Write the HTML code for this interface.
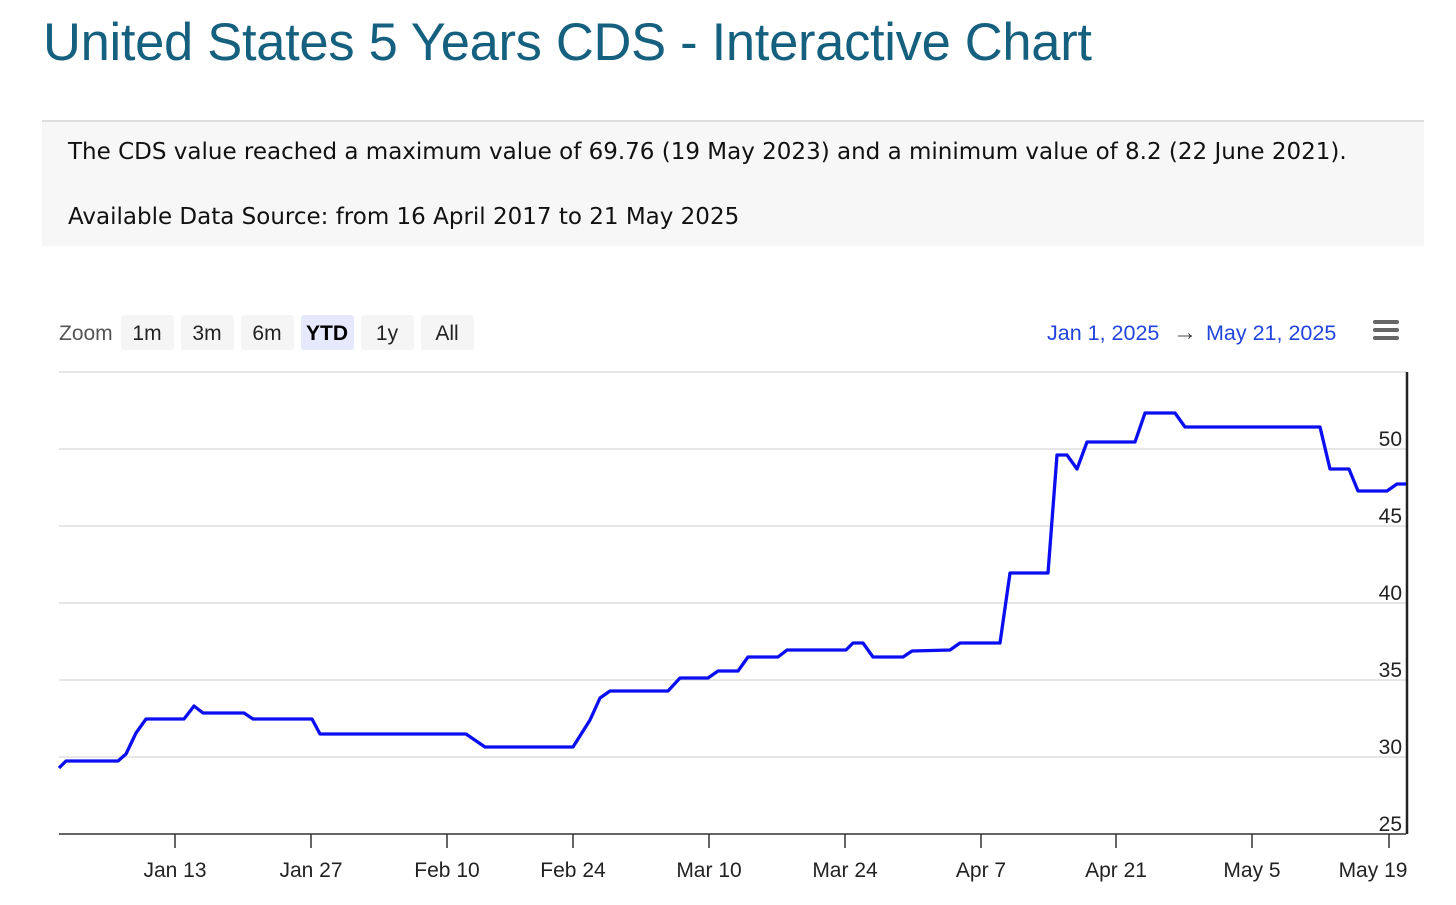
<!DOCTYPE html>
<html><head><style>
body{margin:0;width:1456px;height:905px;background:#fff;font-family:"Liberation Sans",sans-serif;position:relative;overflow:hidden}
h1{position:absolute;left:43px;top:12px;margin:0;font-weight:normal;font-size:52.5px;color:#16607f;letter-spacing:-0.3px}
.box{position:absolute;left:42px;top:120px;width:1382px;height:124px;background:#f7f7f7;border-top:2px solid #ddd}
.box p{position:absolute;left:26px;margin:0;color:#111;font-family:"DejaVu Sans","Liberation Sans",sans-serif;font-size:23px}
</style></head><body>
<h1>United States 5 Years CDS - Interactive Chart</h1>
<div class="box"><p style="top:17px">The CDS value reached a maximum value of 69.76 (19 May 2023) and a minimum value of 8.2 (22 June 2021).</p><p style="top:82px">Available Data Source: from 16 April 2017 to 21 May 2025</p></div>
<svg width="1456" height="905" style="position:absolute;left:0;top:0" font-family="Liberation Sans, sans-serif">
<text x="59" y="340" font-size="21" fill="#555">Zoom</text>
<g font-size="21" fill="#222" text-anchor="middle">
<rect x="121" y="315" width="53" height="35" rx="3" fill="#f5f5f5"/><text x="147" y="340">1m</text>
<rect x="181" y="315" width="53" height="35" rx="3" fill="#f5f5f5"/><text x="207" y="340">3m</text>
<rect x="241" y="315" width="53" height="35" rx="3" fill="#f5f5f5"/><text x="267" y="340">6m</text>
<rect x="301" y="315" width="53" height="35" rx="3" fill="#e6e9fb"/><text x="327" y="340" font-weight="bold" fill="#000">YTD</text>
<rect x="361" y="315" width="53" height="35" rx="3" fill="#f5f5f5"/><text x="387" y="340">1y</text>
<rect x="421" y="315" width="53" height="35" rx="3" fill="#f5f5f5"/><text x="447" y="340">All</text>
</g>
<text x="1047" y="340" font-size="21.5" fill="#2244dd">Jan 1, 2025</text>
<text x="1173" y="340" font-size="24" fill="#444">→</text>
<text x="1206" y="340" font-size="21.5" fill="#2244dd">May 21, 2025</text>
<g stroke="#666" stroke-width="4" stroke-linecap="round"><line x1="1375" y1="322" x2="1397" y2="322"/><line x1="1375" y1="330" x2="1397" y2="330"/><line x1="1375" y1="338" x2="1397" y2="338"/></g>
<g stroke="#ddd" stroke-width="1.5"><line x1="59" y1="372" x2="1406" y2="372"/><line x1="59" y1="449" x2="1406" y2="449"/><line x1="59" y1="526" x2="1406" y2="526"/><line x1="59" y1="603" x2="1406" y2="603"/><line x1="59" y1="680" x2="1406" y2="680"/><line x1="59" y1="757" x2="1406" y2="757"/></g>
<line x1="59" y1="834" x2="1406" y2="834" stroke="#333" stroke-width="1.5"/>
<line x1="1407" y1="372" x2="1407" y2="834" stroke="#222" stroke-width="2.5"/>
<g font-size="21" fill="#222" text-anchor="end"><text x="1402" y="446">50</text><text x="1402" y="523">45</text><text x="1402" y="600">40</text><text x="1402" y="677">35</text><text x="1402" y="754">30</text><text x="1402" y="831">25</text></g>
<g stroke="#333" stroke-width="1.5"><line x1="175" y1="834" x2="175" y2="848"/><line x1="311" y1="834" x2="311" y2="848"/><line x1="447" y1="834" x2="447" y2="848"/><line x1="573" y1="834" x2="573" y2="848"/><line x1="709" y1="834" x2="709" y2="848"/><line x1="845" y1="834" x2="845" y2="848"/><line x1="981" y1="834" x2="981" y2="848"/><line x1="1116" y1="834" x2="1116" y2="848"/><line x1="1252" y1="834" x2="1252" y2="848"/><line x1="1389" y1="834" x2="1389" y2="848"/></g>
<g font-size="21" fill="#222" text-anchor="middle"><text x="175" y="877">Jan 13</text><text x="311" y="877">Jan 27</text><text x="447" y="877">Feb 10</text><text x="573" y="877">Feb 24</text><text x="709" y="877">Mar 10</text><text x="845" y="877">Mar 24</text><text x="981" y="877">Apr 7</text><text x="1116" y="877">Apr 21</text><text x="1252" y="877">May 5</text><text x="1373" y="877">May 19</text></g>
<polyline fill="none" stroke="#0a0ef0" stroke-width="3.3" stroke-linejoin="round" points="59,768 66,761 118,761 126,754 136,733 146,719 184,719 194,706 203,713 244,713 253,719 312,719 320,734 466,734 485,747 573,747 590,720 600,698 610,691 668,691 680,678 708,678 718,671 738,671 748,657 778,657 787,650 846,650 853,643 863,643 873,657 903,657 912,651 950,650 960,643 1000,643 1010,573 1048,573 1057,455 1067,455 1077,469 1087,442 1115,442 1135,442 1145,413 1175,413 1185,427 1320,427 1330,469 1349,469 1358,491 1387,491 1397,484 1406,484"/>
</svg>
</body></html>
